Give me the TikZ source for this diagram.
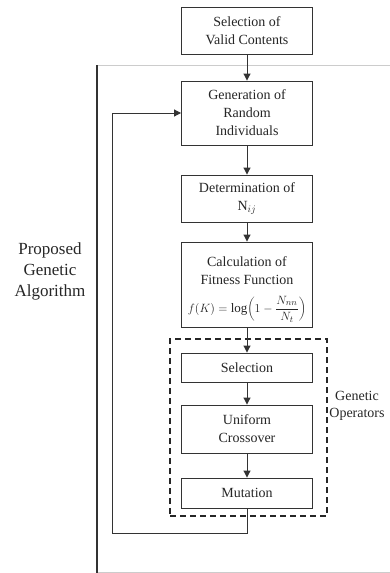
\documentclass[tikz,border=0pt]{standalone}
\usepackage{fontspec}
\setmainfont{Liberation Serif}
\usetikzlibrary{arrows.meta}
\tikzset{
  boxs/.style={draw=black!80, line width=0.9pt, fill=white, minimum width=131pt, align=center, inner sep=2pt,
    font=\fontsize{14}{18}\selectfont, text=black!85},
  txt/.style={align=center, inner sep=1pt, font=\fontsize{14}{18}\selectfont, text=black!85},
  arr/.style={draw=black!80, line width=1pt, -{Triangle[length=7pt,width=7pt]}},
  lin/.style={draw=black!80, line width=1pt},
  dashbox/.style={draw=black!85, line width=1.6pt, dash pattern=on 6pt off 4pt},
  lbl/.style={align=center, text=black!85},
}
\begin{document}
\begin{tikzpicture}[x=1pt,y=-1pt]
\useasboundingbox (0,0) rectangle (390,573);
% bracket of the proposed algorithm
\coordinate (gtr) at (390,65);
\coordinate (gtl) at (97,65);
\coordinate (gbl) at (97,573);
\coordinate (gbr) at (390,572);
\draw[black!20, line width=0.8pt] (gtl) -- (gtr);
\draw[black!20, line width=0.8pt] (97,572) -- (gbr);
\draw[black!80, line width=1.4pt] (gtl) -- (gbl);
% dashed operators box
\node[dashbox, minimum width=157pt, minimum height=177pt] (ops) at (248.5,427.5) {};
% boxes
\node[boxs, minimum height=47pt] (sel) at (247,30.5) {Selection of\\Valid Contents};
\node[boxs, minimum height=64pt] (gen) at (247,113) {Generation of\\Random\\Individuals};
\node[boxs, minimum height=47pt] (det) at (247,198.5) {Determination of\\N$_{ij}$};
\node[boxs, minimum height=85pt] (fit) at (247,284.5) {};
\node[txt] (fitt) at (247,271) {Calculation of\\Fitness Function};
\node[txt, font=\fontsize{13}{15}\selectfont] (fml) at (247,309)
  {$\displaystyle f(K)=\log\!\left(1-\frac{N_{nn}}{N_t}\right)$};
\node[boxs, minimum height=29pt] (slc) at (247,367.5) {Selection};
\node[boxs, minimum height=48pt] (crs) at (247,429) {Uniform\\Crossover};
\node[boxs, minimum height=30pt] (mut) at (247,493) {Mutation};
% connectors
\draw[arr] (sel) -- (gen);
\draw[arr] (gen) -- (det);
\draw[arr] (det) -- (fit);
\draw[arr] (fit) -- (slc);
\draw[arr] (slc) -- (crs);
\draw[arr] (crs) -- (mut);
\coordinate (lb) at (112,533);
\draw[lin] (mut.south) |- (lb);
\draw[arr] (lb) |- (gen.west);
% labels
\node[lbl, font=\fontsize{17}{21}\selectfont] (pga) at (50,271) {Proposed\\Genetic\\Algorithm};
\node[lbl, font=\fontsize{14}{17}\selectfont] (gop) at (357,406) {Genetic\\Operators};
\end{tikzpicture}
\end{document}
